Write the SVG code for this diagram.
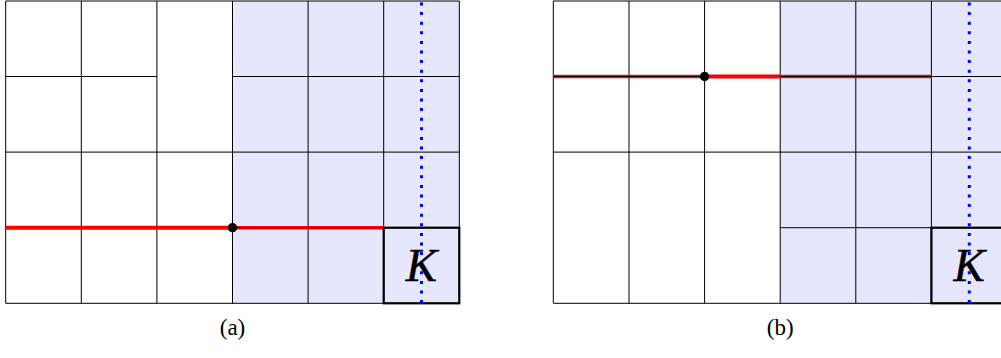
<svg xmlns="http://www.w3.org/2000/svg" width="1001" height="358" viewBox="0 0 1001 358">
<style>
.bg{fill:#e6e6fc;stroke:none}
.g{stroke:#000;stroke-width:1;fill:none}
.k{stroke:#000;stroke-width:2.2;fill:none}
.blue{stroke:#0000ff;stroke-width:3;stroke-dasharray:3 6.6;fill:none}
.red{stroke:#ff0000;stroke-width:4;fill:none}
.redt{stroke:#ff0000;stroke-width:3.4;fill:none}
.kt{font-style:italic;font-size:47px;fill:#000;stroke:#000;stroke-width:0.4}
.lab{font-size:23px;fill:#000}
</style>
<rect width="1001" height="358" fill="#fff"/>
<g id="diagram-a">
<rect class="bg" x="232.5" y="1" width="226.8" height="302.3"/>
<g class="g">
<path d="M5.7 1H459.3M5.7 76.5H156.9M232.5 76.5H459.3M5.7 152.1H459.3M5.7 227.7H459.3M5.7 303.3H459.3"/>
<path d="M5.7 1V303.3M81.3 1V303.3M156.9 1V303.3M232.5 1V303.3M308.1 1V303.3M383.7 1V303.3M459.3 1V303.3"/>
</g>
<rect class="k" x="383.7" y="227.7" width="75.6" height="75.6"/>
<path class="red" d="M5.7 227.7H232.5"/>
<path class="redt" d="M232.5 227.7H383.7"/>
<path class="g" d="M232.5 227.7H383.7"/>
<path class="blue" d="M421.5 2.5V303.3"/>
<circle cx="232.5" cy="227.7" r="4.7" fill="#000"/>
<text class="kt" x="421.5" y="281" text-anchor="middle" font-family="'Liberation Serif', 'Times New Roman', serif">K</text>
<text class="lab" x="232.5" y="335" text-anchor="middle" font-family="'Liberation Serif', 'Times New Roman', serif">(a)</text>
</g>
<g id="diagram-b">
<rect class="bg" x="780.2" y="1" width="226.8" height="302.3"/>
<g class="g">
<path d="M553.3 1H1007M553.3 76.5H1007M553.3 152.1H1007M780.2 227.7H1007M553.3 303.3H1007"/>
<path d="M553.3 1V303.3M629 1V303.3M704.6 1V303.3M780.2 1V303.3M855.8 1V303.3M931.4 1V303.3"/>
</g>
<rect class="k" x="931.4" y="227.7" width="75.6" height="75.6"/>
<path class="redt" d="M553.3 76.5H704.6M780.2 76.5H931.4"/>
<path class="g" d="M553.3 76.5H704.6M780.2 76.5H931.4"/>
<path class="red" d="M704.6 76.5H780.2"/>
<path class="blue" d="M969.3 2.5V303.3"/>
<circle cx="704.6" cy="76.5" r="4.7" fill="#000"/>
<text class="kt" x="969.3" y="281" text-anchor="middle" font-family="'Liberation Serif', 'Times New Roman', serif">K</text>
<text class="lab" x="780.2" y="335" text-anchor="middle" font-family="'Liberation Serif', 'Times New Roman', serif">(b)</text>
</g>
</svg>
